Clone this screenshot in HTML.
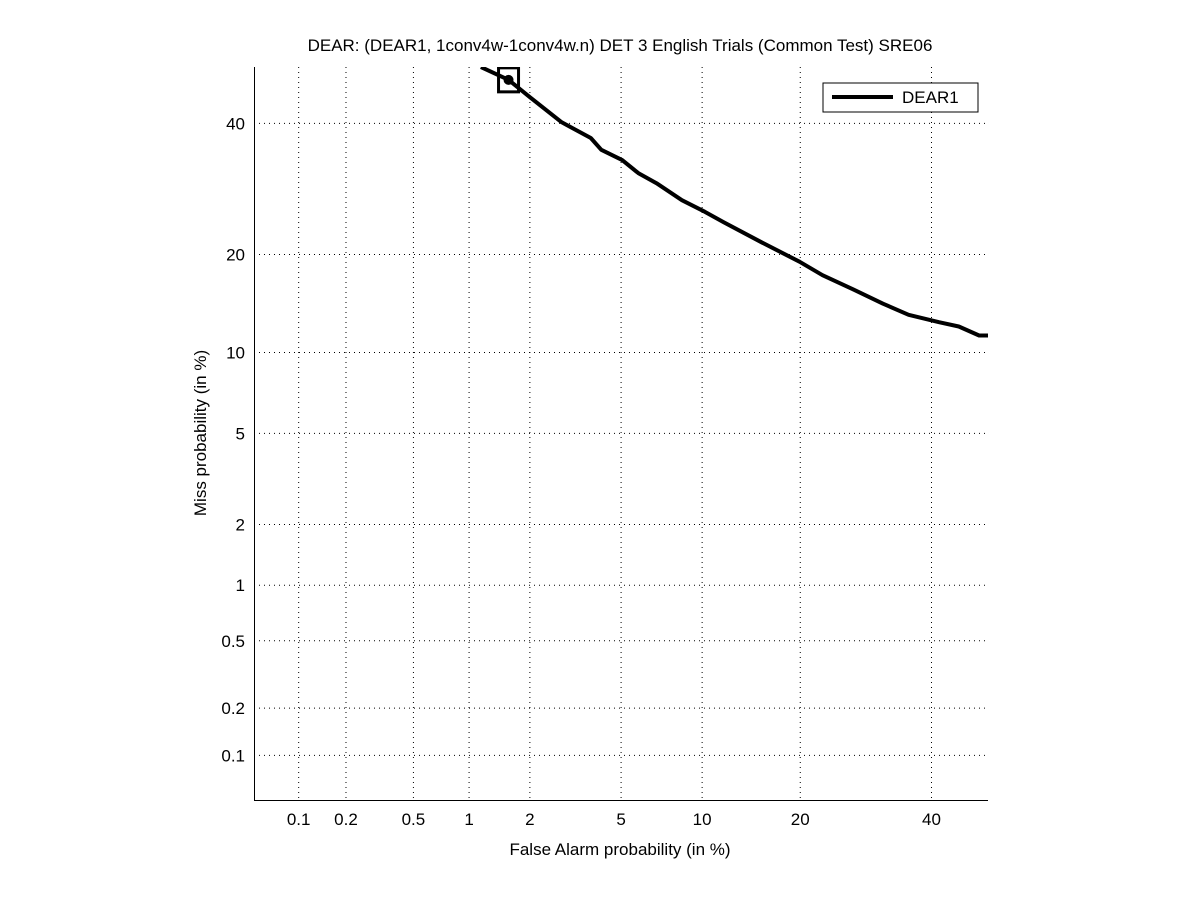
<!DOCTYPE html>
<html><head><meta charset="utf-8"><style>
body{margin:0;background:#fff;}
svg text{font-family:"Liberation Sans",sans-serif;font-size:17px;fill:#000;}
</style></head><body>
<svg id="chart" width="1201" height="900">
<rect width="1201" height="900" fill="#fff"/>
<g id="grid"></g>
<g id="ticks"></g>
<clipPath id="clip"><rect x="254" y="67" width="734" height="733"/></clipPath>
<g id="series" clip-path="url(#clip)"></g>
<line x1="254.5" y1="67" x2="254.5" y2="800" stroke="#000"/>
<line x1="254" y1="800.5" x2="988" y2="800.5" stroke="#000"/>
<text x="620" y="51" text-anchor="middle">DEAR: (DEAR1, 1conv4w-1conv4w.n) DET 3 English Trials (Common Test) SRE06</text>
<text x="620" y="855" text-anchor="middle">False Alarm probability (in %)</text>
<text x="0" y="0" text-anchor="middle" transform="translate(206,433) rotate(-90)">Miss probability (in %)</text>
<g>
<rect x="823" y="83" width="155" height="29" fill="#fff" stroke="#000"/>
<line x1="832" y1="97" x2="893" y2="97" stroke="#000" stroke-width="4"/>
<text x="902" y="103">DEAR1</text>
</g>
</svg>
<script>
const xTicks=[0.1,0.2,0.5,1,2,5,10,20,40];
const yTicks=[0.1,0.2,0.5,1,2,5,10,20,40];
const faValues=[1.15,1.58,2.0,2.8,3.75,4.15,5.05,5.85,6.86,8.5,10.2,11.8,15.6,19.9,22.9,27.3,31.9,36.1,41.3,44.8,48.4,50];
const missValues=[50,47.7,44.6,40.2,37.5,35.5,33.8,31.7,30.1,27.5,25.8,24.3,21.5,19.1,17.5,15.9,14.4,13.3,12.6,12.2,11.4,11.4];
const minDcfFa=[1.58];
const minDcfMiss=[47.7];
function ninv(p){
 const a=[-39.69683028665376,220.9460984245205,-275.9285104469687,138.3577518672690,-30.66479806614716,2.506628277459239];
 const b=[-54.47609879822406,161.5858368580409,-155.6989798598866,66.80131188771972,-13.28068155288572];
 const c=[-0.007784894002430293,-0.3223964580411365,-2.400758277161838,-2.549732539343734,4.374664141464968,2.938163982698783];
 const d=[0.007784695709041462,0.3224671290700398,2.445134137142996,3.754408661907416];
 const pl=0.02425;let q,r;
 if(p<pl){q=Math.sqrt(-2*Math.log(p));return (((((c[0]*q+c[1])*q+c[2])*q+c[3])*q+c[4])*q+c[5])/((((d[0]*q+d[1])*q+d[2])*q+d[3])*q+1);}
 if(p>1-pl){q=Math.sqrt(-2*Math.log(1-p));return -(((((c[0]*q+c[1])*q+c[2])*q+c[3])*q+c[4])*q+c[5])/((((d[0]*q+d[1])*q+d[2])*q+d[3])*q+1);}
 q=p-0.5;r=q*q;return (((((a[0]*r+a[1])*r+a[2])*r+a[3])*r+a[4])*r+a[5])*q/(((((b[0]*r+b[1])*r+b[2])*r+b[3])*r+b[4])*r+1);
}
const zmin=ninv(0.0005),zmax=0;
function xs(pct){return 254+(ninv(pct/100)-zmin)/(zmax-zmin)*734;}
function ys(pct){return 800-(ninv(pct/100)-zmin)/(zmax-zmin)*733;}
const NS="http://www.w3.org/2000/svg";
function mk(t,at,parent){const e=document.createElementNS(NS,t);for(const k in at)e.setAttribute(k,at[k]);document.getElementById(parent).appendChild(e);return e;}
xTicks.forEach(v=>{
 const x=xs(v);
 const g=mk('line',{x1:x,x2:x,y1:67,y2:800,stroke:'#000','stroke-dasharray':'1 4','stroke-width':1},'grid');
 
 
 const t=mk('text',{x:x,y:825,'text-anchor':'middle'},'ticks');t.textContent=v;
 
 
});
yTicks.forEach(v=>{
 const y=ys(v);
 const g=mk('line',{x1:254,x2:988,y1:y,y2:y,stroke:'#000','stroke-dasharray':'1 4','stroke-width':1},'grid');
 
 
 const t=mk('text',{x:245,y:y+6,'text-anchor':'end'},'ticks');t.textContent=v;
 
 
});
const pts=faValues.map((f,i)=>xs(f).toFixed(1)+','+ys(missValues[i]).toFixed(1)).join(' ');
const line=mk('polyline',{points:pts,fill:'none',stroke:'#000','stroke-width':4,'stroke-linejoin':'round'},'series');


const mx=xs(minDcfFa[0]),my=ys(minDcfMiss[0]);
const sq=mk('rect',{x:mx-10,y:my-12,width:20,height:24,fill:'none',stroke:'#000','stroke-width':3},'series');


const ci=mk('circle',{cx:mx,cy:my,r:5,fill:'#000'},'series');


</script>
</body></html>
